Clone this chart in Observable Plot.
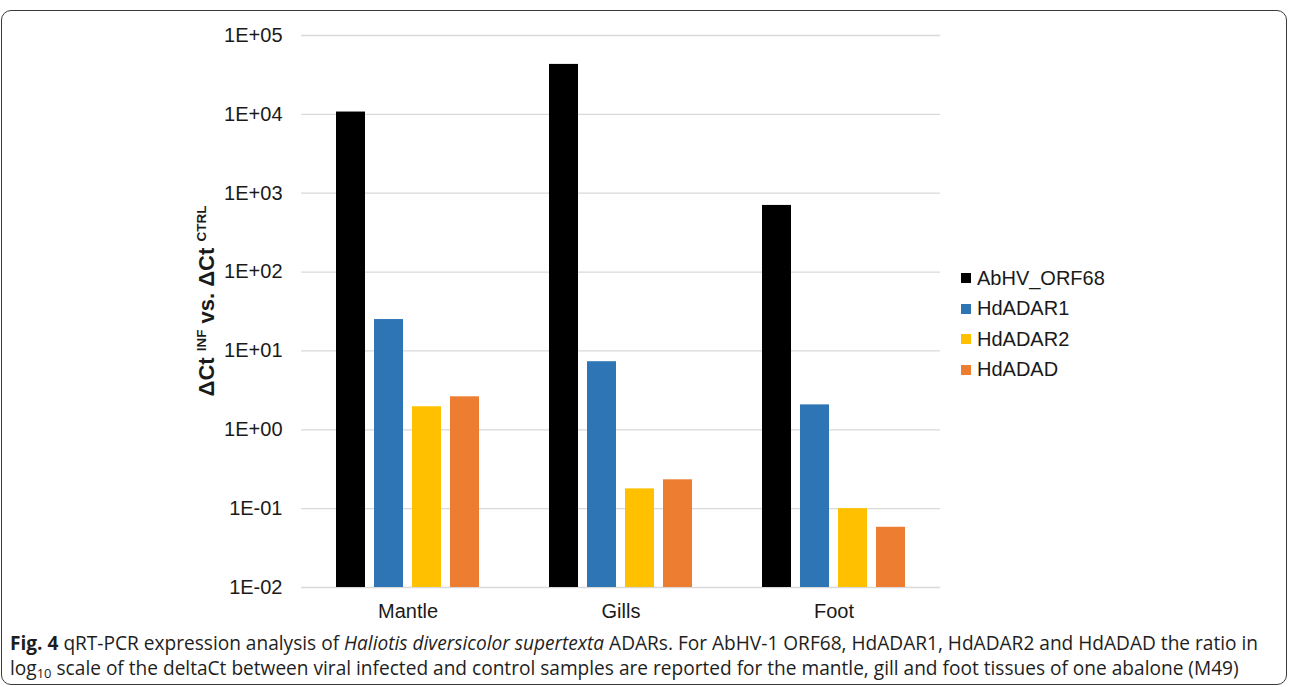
<!DOCTYPE html>
<html>
<head>
<meta charset="utf-8">
<script src="https://cdn.jsdelivr.net/npm/d3@7"></script>
<script src="https://cdn.jsdelivr.net/npm/@observablehq/plot@0.6"></script>
<style>
  html, body { margin: 0; padding: 0; background: #fff; }
  #page { position: relative; width: 1290px; height: 687px; overflow: hidden; background: #fff; }
  #frame { position: absolute; left: 1px; top: 10px; width: 1284px; height: 673px;
           border: 1.5px solid #3a3a3a; border-radius: 10px; }
  #chart { position: absolute; left: 0; top: 0; }
  #legend { position: absolute; left: 961px; top: 263px; font-family: "Liberation Sans", Arial, sans-serif;
            font-size: 20px; color: #1a1a1a; }
  #legend .row { display: flex; align-items: center; height: 30.5px; }
  #legend .sw { width: 10px; height: 10px; margin-right: 6px; }
  #caption { position: absolute; left: 10px; top: 631px; width: 1278px; font-family: "Open Sans", sans-serif;
             font-size: 19.1px; line-height: 25px; color: #1e1e1e; white-space: nowrap; }
  #caption b { font-weight: 700; }
  #caption sub { font-size: 13px; vertical-align: -3px; line-height: 0; }
</style>
</head>
<body>
<div id="page">
  <div id="frame"></div>
  <div id="chart"></div>
  <div id="legend"></div>
  <div id="caption"><b>Fig. 4</b> qRT-PCR expression analysis of <i>Haliotis diversicolor supertexta</i> ADARs. For AbHV-1 ORF68, HdADAR1, HdADAR2 and HdADAD the ratio in<br>log<sub>10</sub> scale of the deltaCt between viral infected and control samples are reported for the mantle, gill and foot tissues of one abalone (M49)</div>
</div>
<script>
// Tissues (groups along the x axis) and the four transcripts measured in each
const tissues = ["Mantle", "Gills", "Foot"];
const series = ["AbHV_ORF68", "HdADAR1", "HdADAR2", "HdADAD"];
const seriesColors = ["#000000", "#2E75B6", "#FFC000", "#ED7D31"];

// ΔCt INF vs ΔCt CTRL ratio per tissue (Mantle, Gills, Foot)
const abhvOrf68 = [10700, 43000, 700];
const hdAdar1 = [25.0, 7.3, 2.07];
const hdAdar2 = [1.96, 0.178, 0.1];
const hdAdad = [2.62, 0.232, 0.058];

// Log-axis tick values
const yTicks = [1e-2, 1e-1, 1e0, 1e1, 1e2, 1e3, 1e4, 1e5];

const seriesValues = [abhvOrf68, hdAdar1, hdAdar2, hdAdad];
const rows = [];
tissues.forEach((t, i) => {
  series.forEach((s, j) => rows.push({tissue: t, series: s, value: seriesValues[j][i]}));
});

// Format powers of ten in scientific "1E+05" style
const sci = d => {
  const e = Math.round(Math.log10(d));
  return "1E" + (e < 0 ? "-" : "+") + String(Math.abs(e)).padStart(2, "0");
};

const yMin = yTicks[0];

const chart = Plot.plot({
  width: 960,
  height: 632,
  marginLeft: 301,
  marginRight: 20,
  marginTop: 35,
  marginBottom: 45,
  style: {fontFamily: "'Liberation Sans', Arial, sans-serif", fontSize: "20px", color: "#1a1a1a", background: "transparent", overflow: "visible"},
  fx: {domain: tissues, padding: 0, label: null},
  x: {domain: series, paddingInner: 0.224, paddingOuter: 0.866, axis: null},
  y: {type: "log", domain: [yTicks[0], yTicks[yTicks.length - 1]]},
  color: {domain: series, range: seriesColors},
  marks: [
    Plot.ruleY(yTicks, {stroke: "#d9d9d9", strokeWidth: 1.3}),
    Plot.rectY(rows, {fx: "tissue", x: "series", y1: yMin, y2: "value", fill: "series"}),
    Plot.axisY(yTicks, {tickFormat: sci, tickSize: 0, tickPadding: 19, label: null, fontSize: 20}),
    Plot.axisFx({anchor: "bottom", tickSize: 0, tickPadding: 16, label: null, fontSize: 20})
  ]
});
document.getElementById("chart").appendChild(chart);

// Rotated y-axis title with superscripts
const svg = d3.select(chart);
const title = svg.append("text")
  .attr("transform", "translate(214,301) rotate(-90)")
  .attr("text-anchor", "middle")
  .attr("font-family", "'Liberation Sans', Arial, sans-serif")
  .attr("font-weight", "bold")
  .attr("font-size", 22)
  .attr("fill", "#1a1a1a");
title.append("tspan").text("ΔCt ");
title.append("tspan").attr("font-size", 13.5).attr("dy", -8.5).text("INF");
title.append("tspan").attr("dy", 8.5).text(" vs. ΔCt ");
title.append("tspan").attr("font-size", 13.5).attr("dy", -8.5).text("CTRL");

// Legend
const legend = d3.select("#legend");
series.forEach((s, i) => {
  const row = legend.append("div").attr("class", "row");
  row.append("div").attr("class", "sw").style("background", seriesColors[i]);
  row.append("span").text(s);
});
</script>
</body>
</html>
